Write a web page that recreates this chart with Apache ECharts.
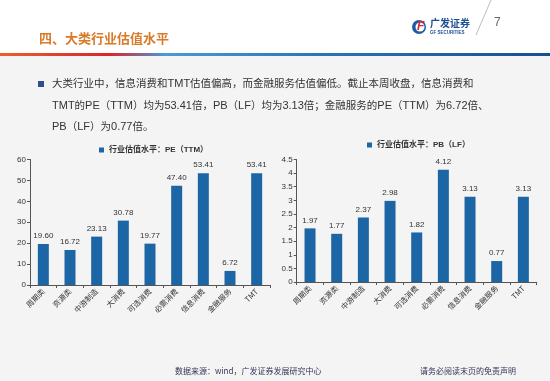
<!DOCTYPE html>
<html><head><meta charset="utf-8">
<script src="https://cdn.jsdelivr.net/npm/echarts@6/dist/echarts.min.js"></script>
<style>html,body{margin:0;padding:0;background:#f4f4f4}#c{width:550px;height:381px}</style>
</head><body><div id="c"></div>
<script>
var categories = ['周期类','资源类','中游制造','大消费','可选消费','必需消费','信息消费','金融服务','TMT'];
var peValues = [19.60,16.72,23.13,30.78,19.77,47.40,53.41,6.72,53.41];
var pbValues = [1.97,1.77,2.37,2.98,1.82,4.12,3.13,0.77,3.13];
var peTicks = [0,10,20,30,40,50,60];
var pbTicks = [0,0.5,1,1.5,2,2.5,3,3.5,4,4.5];
var peName = '行业估值水平：PE（TTM）';
var pbName = '行业估值水平：PB（LF）';
var titleText = '四、大类行业估值水平';
var paraLines = [
  '大类行业中，信息消费和TMT估值偏高，而金融服务估值偏低。截止本周收盘，信息消费和',
  'TMT的PE（TTM）均为53.41倍，PB（LF）均为3.13倍；金融服务的PE（TTM）为6.72倍、',
  'PB（LF）为0.77倍。'
];
var sourceText = '数据来源：wind，广发证券发展研究中心';
var disclaimer = '请务必阅读末页的免责声明';

var BAR = '#1d66a5';
var CJK = '"Noto Sans CJK SC", sans-serif';
var LAT = '"Liberation Sans", Arial, "Noto Sans CJK SC", sans-serif';

function richify(s){ return s.replace(/[A-Za-z0-9.]+/g, function(m){return '{l|'+m+'}';}); }

var chart = echarts.init(document.getElementById('c'));
var paraGraphics = paraLines.map(function(t,i){
  return {type:'text', left:52, top:[78,100,121][i], style:{text:richify(t), fill:'#333', font:'10.5px '+CJK,
    rich:{l:{fontSize:11, fontFamily:LAT, fill:'#333'}}}};
});
function xAxis(idx){
  return {type:'category', gridIndex:idx, data:categories,
    axisLine:{lineStyle:{color:'#555', width:1}},
    axisTick:{show:true, length:3, lineStyle:{color:'#555'}},
    axisLabel:{rotate:45, fontSize:7.5, color:'#333', fontFamily:CJK, margin:5, interval:0}};
}
function yAxis(idx, ticks){
  return {type:'value', gridIndex:idx, min:ticks[0], max:ticks[ticks.length-1], interval:ticks[1]-ticks[0],
    splitLine:{show:false},
    axisLine:{show:true, lineStyle:{color:'#555'}},
    axisTick:{show:true, length:3, lineStyle:{color:'#555'}},
    axisLabel:{fontSize:8, color:'#333', fontFamily:LAT, margin:4}};
}
chart.setOption({
  backgroundColor:'#f4f4f4',
  animation:false,
  graphic:[
    {type:'rect', shape:{x:0,y:0,width:550,height:53}, style:{fill:'#ffffff'}, z:-10},
    {type:'rect', shape:{x:0,y:53,width:550,height:3}, style:{fill:new echarts.graphic.LinearGradient(0,0,1,0,[
      {offset:0,color:'#e8602c'},{offset:0.2,color:'#d9252e'},{offset:0.3,color:'#4a98d6'},{offset:0.6,color:'#2a72b8'},{offset:1,color:'#184f90'}])}},
    {type:'text', left:39, top:32, style:{text:titleText, fill:'#d97a28', font:'bold 13px '+CJK}},
    {type:'circle', shape:{cx:419,cy:27,r:7}, style:{fill:'#1b5ea8'}},
    {type:'circle', shape:{cx:420,cy:27,r:4.5}, style:{fill:'#ffffff'}},
    {type:'text', left:417, top:20.5, style:{text:'F', fill:'#d9252e', font:'bold italic 12px '+LAT}},
    {type:'text', left:430, top:18, style:{text:'广发证券', fill:'#1b4f8f', font:'bold 10px '+CJK}},
    {type:'text', left:430, top:31, style:{text:'GF SECURITIES', fill:'#1b4f8f', font:'bold 4.5px '+LAT}},
    {type:'line', shape:{x1:491,y1:0,x2:476,y2:35}, style:{stroke:'#aaa', lineWidth:0.8}},
    {type:'text', left:494, top:17, style:{text:'7', fill:'#666', font:'12px '+LAT}},
    {type:'rect', shape:{x:38,y:81,width:6,height:6}, style:{fill:'#2f4f8f'}},
    {type:'text', left:175, top:367, style:{text:sourceText, fill:'#333355', font:'8px '+CJK}},
    {type:'text', left:420, top:367, style:{text:disclaimer, fill:'#333355', font:'8px '+CJK}}
  ].concat(paraGraphics),
  legend:[
    {data:[peName], left:94, top:141, itemWidth:5, itemHeight:5, icon:'rect', itemGap:4,
      textStyle:{fontSize:8, fontWeight:'bold', color:'#333', fontFamily:LAT}},
    {data:[pbName], left:362, top:136, itemWidth:5, itemHeight:5, icon:'rect', itemGap:4,
      textStyle:{fontSize:8, fontWeight:'bold', color:'#333', fontFamily:LAT}}
  ],
  grid:[
    {left:30, top:159.5, width:240, height:125.5},
    {left:296.7, top:159.5, width:240, height:122.5}
  ],
  xAxis:[xAxis(0), xAxis(1)],
  yAxis:[yAxis(0, peTicks), yAxis(1, pbTicks)],
  series:[
    {name:peName, type:'bar', xAxisIndex:0, yAxisIndex:0, data:peValues, barWidth:11, itemStyle:{color:BAR},
      label:{show:true, position:'top', fontSize:8, color:'#333', fontFamily:LAT, distance:4,
        formatter:function(p){return p.value.toFixed(2);}}},
    {name:pbName, type:'bar', xAxisIndex:1, yAxisIndex:1, data:pbValues, barWidth:11, itemStyle:{color:BAR},
      label:{show:true, position:'top', fontSize:8, color:'#333', fontFamily:LAT, distance:4,
        formatter:function(p){return p.value.toFixed(2);}}}
  ]
});
</script></body></html>
